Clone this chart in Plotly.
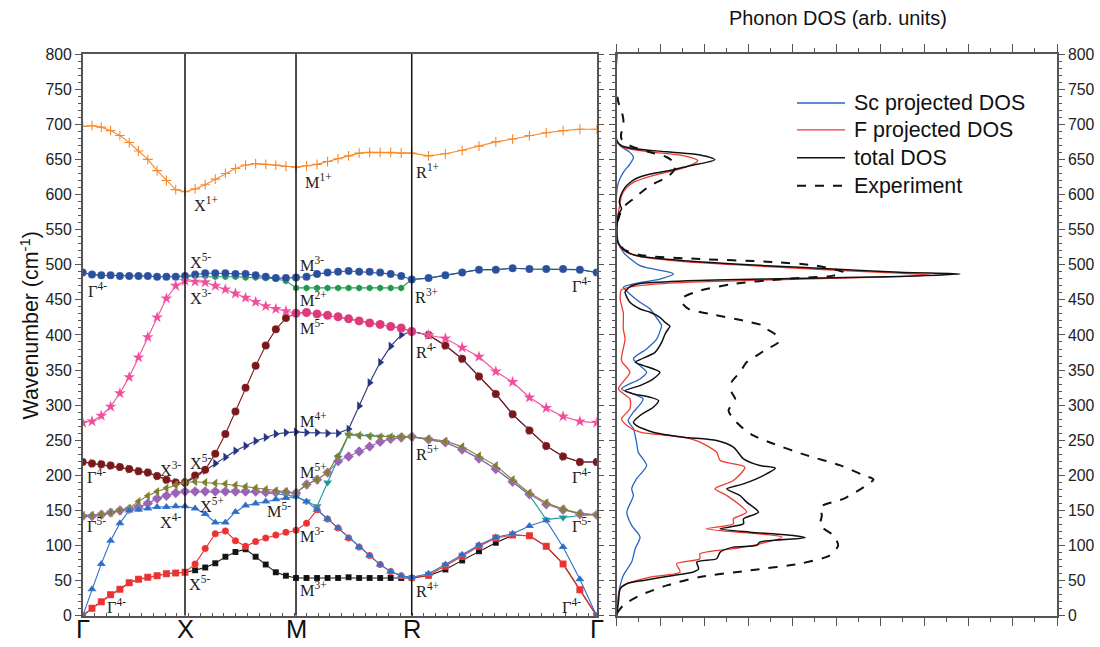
import numpy as np
import plotly.graph_objects as go

# ---------------- band structure data ----------------
kpath_labels = ["Γ", "X", "M", "R", "Γ"]
kpath_pos = [0.0, 1.0, 2.085, 3.216, 5.024]   # path coordinate of high-symmetry points (as drawn)
pts_per_seg = 12

# each band: Γ-X (12 pts) + X-M (11) + M-R (11) + R-Γ (11)
orange = ([697, 698, 696, 691, 684, 674, 662, 650, 634, 620, 607, 604] +
          [608, 614, 622, 630, 637, 642, 644, 643, 642, 640, 639] +
          [641, 643, 647, 651, 655, 659, 660, 660, 660, 659, 659] +
          [655, 658, 663, 669, 675, 679, 684, 688, 691, 693, 693])
bluecirc = ([489, 486, 485, 485, 484, 484, 484, 484, 483, 483, 483, 484] +
            [486, 488, 488, 488, 487, 487, 485, 483, 481, 481, 482] +
            [483, 487, 489, 490, 491, 490, 490, 489, 487, 484, 479] +
            [481, 485, 489, 493, 493, 495, 494, 494, 494, 493, 489])
green = ([489, 486, 485, 485, 484, 484, 484, 484, 483, 483, 483, 484] +
         [484, 484, 483, 483, 483, 482, 482, 481, 480, 477, 467] +
         [467, 467, 467, 467, 467, 467, 467, 467, 467, 467, 479] +
         [481, 485, 489, 493, 493, 495, 494, 494, 494, 493, 489])
pink = ([275, 277, 285, 298, 317, 340, 368, 397, 425, 452, 470, 477] +
        [476, 475, 470, 465, 459, 453, 447, 441, 437, 434, 431] +
        [432, 430, 428, 426, 423, 420, 417, 415, 412, 410, 405] +
        [400, 395, 382, 369, 348, 333, 311, 296, 284, 277, 275])
maroon = ([219, 217, 216, 214, 212, 209, 206, 204, 199, 194, 190, 190] +
          [200, 208, 231, 259, 291, 325, 356, 385, 408, 424, 431] +
          [432, 430, 428, 426, 423, 420, 417, 415, 412, 410, 405] +
          [400, 385, 366, 341, 316, 287, 264, 242, 227, 219, 219])
navy = ([219, 217, 216, 214, 212, 209, 206, 204, 199, 194, 190, 190] +
        [197, 207, 217, 226, 235, 242, 249, 254, 259, 261, 262] +
        [261, 261, 260, 260, 266, 299, 332, 361, 384, 400, 405] +
        [400, 385, 366, 341, 316, 287, 264, 242, 227, 219, 219])
olive = ([143, 143, 144, 147, 150, 153, 163, 171, 177, 182, 186, 190] +
         [191, 190, 189, 188, 186, 184, 182, 180, 178, 177, 175] +
         [187, 194, 204, 228, 258, 257, 256, 255, 255, 255, 255] +
         [252, 249, 241, 228, 214, 194, 175, 161, 152, 146, 144])
purple = ([142, 142, 144, 147, 150, 152, 155, 160, 167, 171, 175, 177] +
          [177, 177, 177, 177, 177, 177, 177, 176, 176, 176, 175] +
          [187, 194, 204, 220, 227, 234, 241, 248, 252, 254, 255] +
          [251, 247, 237, 224, 209, 191, 173, 159, 151, 145, 144])
teal = ([142, 142, 144, 147, 150, 152, 155, 160, 167, 171, 175, 177] +
        [177, 177, 177, 177, 177, 177, 176, 175, 174, 172, 170] +
        [163, 156, 190, 225, 258, 257, 256, 255, 255, 255, 255] +
        [251, 247, 237, 224, 209, 191, 172, 137, 140, 143, 144])
blueup = ([0, 38, 74, 107, 132, 150, 151, 153, 155, 155, 156, 156] +
          [153, 145, 133, 133, 148, 157, 160, 163, 166, 168, 170] +
          [163, 151, 138, 125, 111, 98, 86, 73, 63, 57, 55] +
          [60, 73, 87, 101, 112, 117, 128, 136, 98, 52, 0])
red = ([0, 11, 20, 30, 38, 47, 52, 55, 57, 60, 61, 62] +
       [74, 96, 117, 121, 107, 99, 106, 111, 115, 119, 122] +
       [132, 151, 138, 125, 111, 98, 86, 73, 63, 57, 54] +
       [58, 71, 85, 99, 111, 115, 114, 99, 74, 37, 0])
black = ([0, 11, 20, 30, 38, 47, 52, 55, 57, 60, 61, 62] +
         [65, 69, 75, 84, 91, 95, 84, 73, 62, 57, 54] +
         [54, 54, 54, 54, 55, 54, 54, 54, 54, 54, 54] +
         [57, 66, 79, 92, 104, 115, 114, 99, 74, 37, 0])

# ---------------- DOS data (frequency in cm-1, DOS in arb. units) ----------------
tot_f = [0, 19.7, 38.7, 45.8, 50.5, 57.6, 62.4, 67.1, 76.6, 81.3, 90.8, 97.9, 100.3, 105.0, 111.2,
         114.5, 119.2, 124.0, 131.1, 138.2, 147.7, 161.9, 171.4, 180.9, 188.0, 199.8, 210.3, 214.1,
         223.6, 240.2, 249.6, 254.4, 261.5, 271.0, 275.8, 285.3, 297.1, 306.6, 311.3, 316.1, 320.8,
         327.9, 337.4, 346.9, 356.4, 361.1, 364.9, 375.3, 389.5, 401.4, 408.5, 412.4, 418.0, 425.2,
         432.3, 437.0, 446.5, 460.8, 464.5, 468.8, 473.3, 476.9, 479.7, 483.3, 486.8, 489.2, 494.0,
         498.7, 505.8, 512.0, 517.7, 524.8, 536.7, 555.6, 572.3, 579.4, 588.9, 598.4, 610.2, 616.4,
         622.1, 629.2, 635.4, 641.1, 645.8, 649.6, 652.9, 657.6, 660.9, 664.8, 669.5, 676.6, 800]
tot_d = [0, 0.04, 0.08, 0.23, 0.61, 1.29, 1.74, 1.86, 1.82, 2.27, 2.35, 2.65, 3.18, 3.25, 4.28,
         4.01, 3.03, 2.35, 2.88, 2.88, 3.22, 2.95, 2.80, 2.50, 2.88, 3.33, 3.60, 3.25,
         2.88, 2.65, 2.27, 1.51, 0.83, 0.45, 0.38, 0.53, 0.83, 0.95, 0.76, 0.38, 0.19,
         0.53, 0.83, 0.98, 0.61, 0.42, 0.53, 0.87, 1.02, 1.10, 1.17, 1.21, 1.10, 0.98,
         0.76, 0.53, 0.30, 0.19, 0.23, 0.30, 0.53, 1.51, 3.41, 6.43, 7.80, 6.43, 4.92,
         3.41, 1.51, 0.53, 0.25, 0.10, 0, 0.01, 0.04, 0.11, 0.06, 0.09, 0.19, 0.29,
         0.42, 0.76, 1.29, 1.66, 2.04, 2.23, 2.12, 1.74, 1.14, 0.45, 0.11, 0, 0]

f_f = [0, 38.7, 45.8, 55.3, 62.4, 74.2, 81.3, 88.5, 95.6, 100.3, 112.2, 124.0, 131.1, 138.2, 147.7,
       171.4, 180.9, 192.7, 211.8, 221.3, 233.1, 247.3, 254.4, 261.5, 271.1, 280.6, 294.8, 309.0,
       323.2, 346.9, 363.5, 394.3, 408.5, 431.5, 450.5, 464.5, 468.0, 472.0, 475.5, 479.0, 482.5,
       485.4, 488.0, 492.5, 497.5, 504.5, 511.5, 517.7, 524.8, 536.7, 555.6, 574.6, 588.9, 598.4,
       610.2, 617.3, 625.9, 633.9, 641.1, 648.2, 655.3, 660.9, 667.1, 676.6, 800]
f_d = [0, 0.08, 0.23, 0.76, 1.44, 1.36, 1.89, 1.89, 2.65, 3.10, 3.75, 2.04, 2.65, 2.65, 2.95,
       2.50, 2.23, 2.65, 2.91, 2.35, 2.27, 1.89, 1.51, 0.53, 0.23, 0.11, 0.30, 0.30,
       0.04, 0.30, 0.11, 0.19, 0.15, 0.15, 0.08, 0.11, 0.30, 0.80, 1.90, 3.80, 6.00,
       7.12, 6.40, 4.90, 3.40, 1.51, 0.53, 0.23, 0.08, 0, 0, 0.04, 0.08, 0.11,
       0.23, 0.38, 0.76, 1.29, 1.66, 1.84, 1.51, 0.76, 0.15, 0, 0]

sc_f = [0, 29.2, 43.4, 57.6, 76.6, 95.6, 112.2, 128.8, 147.7, 171.4, 180.9, 195.1, 214.1, 233.1,
        247.3, 266.3, 278.2, 290.0, 309.0, 323.2, 337.4, 346.9, 365.9, 380.1, 394.3, 408.5, 413.3,
        427.5, 437.0, 446.5, 460.6, 467.8, 472.6, 479.7, 486.8, 490.2, 498.7, 517.7, 531.9, 545.0,
        603.0, 617.3, 631.6, 643.4, 652.9, 660.0, 669.5, 679.0, 800]
sc_d = [0, 0.04, 0.08, 0.15, 0.34, 0.42, 0.53, 0.34, 0.23, 0.38, 0.34, 0.45, 0.68, 0.49,
        0.45, 0.38, 0.26, 0.38, 0.60, 0.11, 0.53, 0.68, 0.38, 0.68, 0.91, 1.00, 1.02,
        0.87, 0.76, 0.53, 0.26, 0.15, 0.38, 0.98, 1.29, 1.14, 0.53, 0.15, 0.04, 0,
        0, 0.04, 0.15, 0.30, 0.38, 0.30, 0.08, 0, 0]

exp_f = [3.3, 15.0, 29.2, 43.4, 55.3, 64.8, 74.3, 86.1, 100.3, 114.6, 128.8, 143.0, 154.9, 166.7,
         183.3, 194.3, 200.1, 214.3, 228.5, 245.0, 256.9, 266.4, 280.6, 292.4, 309.0, 318.5, 332.7,
         346.9, 361.1, 370.6, 380.0, 389.5, 398.9, 408.5, 413.3, 420.4, 429.9, 437.0, 446.5, 453.6,
         463.1, 472.6, 479.7, 484.5, 489.2, 498.7, 504.4, 508.2, 513.9, 522.4, 537.0, 555.9, 565.4,
         574.9, 584.4, 593.9, 605.7, 612.8, 624.7, 634.2, 643.6, 653.1, 660.2, 669.7, 679.2, 686.3,
         695.8, 707.6, 719.0, 731.0, 745.0]
exp_d = [0, 0.15, 0.53, 1.14, 1.89, 3.03, 4.16, 4.84, 5.03, 4.92, 4.62, 4.66, 4.62, 5.15,
         5.61, 5.83, 5.61, 5.08, 4.32, 3.56, 3.10, 2.88, 2.65, 2.54, 2.69, 2.61, 2.61,
         2.80, 2.95, 3.18, 3.41, 3.67, 3.64, 3.41, 3.33, 2.88, 2.12, 1.63, 1.48, 1.51,
         1.89, 2.65, 3.79, 4.92, 5.15, 4.54, 3.41, 1.89, 0.53, 0.15, 0.01, 0, 0.04,
         0.09, 0.19, 0.38, 0.61, 0.76, 1.14, 1.30, 1.33, 1.14, 0.76, 0.30, 0.11, 0.10,
         0.15, 0.15, 0.11, 0.04, 0]

# ---------------- page geometry ----------------
W, H, OFF = 1100, 647, 8
SY = (H + 2 * OFF) / 647      # vertical fit of the page into the picture
FS = 1.02                     # font compensation


def fx(x):
    """target picture x-pixel -> paper fraction"""
    return x / W


def fy(y):
    """target picture y-pixel -> paper fraction (from bottom)"""
    return 1 - (y * SY - OFF) / H


def fs(size):
    return round(size * FS, 1)


# ---------------- build figure ----------------
segs = []
for s in range(4):
    seg = np.linspace(kpath_pos[s], kpath_pos[s + 1], pts_per_seg)
    segs.append(seg if s == 0 else seg[1:])
kx = np.concatenate(segs)

pink_sym = ["star"] * 22 + ["circle"] * 12 + ["star"] * 11
pink_col = ["#f24c9c"] * 22 + ["#e0387c"] * 12 + ["#f24c9c"] * 11
red_sym = ["square"] * 12 + ["circle"] * 22 + ["square"] * 11

band_specs = [
    (green, "#1e9a4c", "hexagon", 7, "#1e9a4c"),
    (bluecirc, "#2a4f9c", "circle", 8, "#2a4f9c"),
    (orange, "#f7892b", "cross-thin", 7, "#f7892b"),
    (navy, "#25357f", "triangle-right", 8, "#25357f"),
    (maroon, "#7a1719", "circle", 8, "#7a1719"),
    (pink, "#f24c9c", pink_sym, 9, pink_col),
    (teal, "#1a9898", "triangle-down", 8, "#1a9898"),
    (purple, "#9b62b8", "diamond", 8, "#9b62b8"),
    (olive, "#7e7e2e", "triangle-left", 8, "#7e7e2e"),
    (black, "#111111", "square", 6, "#111111"),
    (red, "#ee3030", red_sym, 7, "#ee3030"),
    (blueup, "#2d6ec7", "triangle-up", 8, "#2d6ec7"),
]

fig = go.Figure()
for vals, lc, sym, size, mc in band_specs:
    is_cross = sym == "cross-thin"
    fig.add_trace(go.Scatter(
        x=kx, y=vals, mode="lines+markers", xaxis="x", yaxis="y",
        line=dict(color=lc, width=1.1),
        marker=dict(symbol=sym, size=size, color=mc,
                    line=dict(width=1.1 if is_cross else 0.4,
                              color=lc if is_cross else "rgba(255,255,255,0.35)")),
        showlegend=False, hoverinfo="skip"))

dos_specs = [
    ("Sc projected DOS", sc_f, sc_d, "#2a64c0", "solid", 1.3),
    ("F projected DOS", f_f, f_d, "#f03a2f", "solid", 1.3),
    ("total DOS", tot_f, tot_d, "#111111", "solid", 1.5),
    ("Experiment", exp_f, exp_d, "#111111", "dash", 2.0),
]
for name, fr, dd, col, dash, w in dos_specs:
    fig.add_trace(go.Scatter(
        x=dd, y=fr, mode="lines", xaxis="x2", yaxis="y2", name=name,
        line=dict(color=col, width=w, dash=dash, shape="spline", smoothing=0.7),
        showlegend=False, hoverinfo="skip"))

# vertical lines at X, M, R
shapes = []
for kp in kpath_pos[1:-1]:
    shapes.append(dict(type="line", xref="x", yref="y", x0=kp, x1=kp, y0=0, y1=800,
                       line=dict(color="#111111", width=1.5)))

# manual legend
leg_y = [103, 130, 158, 186]
annotations = []
for (name, fr, dd, col, dash, w), yc in zip(dos_specs, leg_y):
    shapes.append(dict(type="line", xref="paper", yref="paper", x0=fx(797), x1=fx(845),
                       y0=fy(yc), y1=fy(yc), line=dict(color=col, width=w, dash=dash)))
    annotations.append(dict(text=name, xref="paper", yref="paper", x=fx(852), y=fy(yc),
                            xanchor="left", yanchor="middle", showarrow=False,
                            font=dict(family="Liberation Sans", size=fs(21), color="#111")))

# high-symmetry point tick labels
for lab, kp in zip(kpath_labels, kpath_pos):
    annotations.append(dict(text=lab, xref="x", yref="paper", x=kp, y=fy(630),
                            xanchor="center", yanchor="middle", showarrow=False,
                            font=dict(family="Liberation Sans", size=fs(25), color="#111")))

# symmetry labels
sym_labels = [
    ("Γ<sup>4-</sup>", 0.03, 463, "left"), ("X<sup>5-</sup>", 1.03, 504, "left"),
    ("X<sup>3-</sup>", 1.03, 454, "left"), ("M<sup>3-</sup>", 2.10, 501, "left"),
    ("M<sup>2+</sup>", 2.10, 451, "left"), ("M<sup>5-</sup>", 2.10, 410, "left"),
    ("M<sup>4+</sup>", 2.10, 278, "left"), ("R<sup>3+</sup>", 3.23, 455, "left"),
    ("Γ<sup>4-</sup>", 4.99, 470, "right"), ("R<sup>4-</sup>", 3.24, 377, "left"),
    ("X<sup>1+</sup>", 1.07, 586, "left"), ("M<sup>1+</sup>", 2.15, 618, "left"),
    ("R<sup>1+</sup>", 3.24, 633, "left"), ("Γ<sup>4-</sup>", 0.02, 199, "left"),
    ("X<sup>3-</sup>", 0.98, 209, "right"), ("X<sup>5-</sup>", 1.03, 219, "left"),
    ("M<sup>5+</sup>", 2.10, 206, "left"), ("X<sup>5+</sup>", 1.13, 157, "left"),
    ("X<sup>4-</sup>", 0.98, 135, "right"), ("M<sup>5-</sup>", 2.06, 150, "right"),
    ("Γ<sup>5-</sup>", 0.02, 128, "left"), ("M<sup>3-</sup>", 2.10, 114, "left"),
    ("Γ<sup>4-</sup>", 0.22, 14, "left"), ("X<sup>5-</sup>", 1.02, 46, "left"),
    ("M<sup>3+</sup>", 2.10, 38, "left"), ("R<sup>5+</sup>", 3.24, 231, "left"),
    ("Γ<sup>4-</sup>", 4.99, 199, "right"), ("Γ<sup>5-</sup>", 4.99, 128, "right"),
    ("R<sup>4+</sup>", 3.24, 36, "left"), ("Γ<sup>4-</sup>", 4.89, 13, "right"),
]
for txt, xx, yy, anc in sym_labels:
    annotations.append(dict(text=txt, xref="x", yref="y", x=xx, y=yy, xanchor=anc,
                            yanchor="middle", showarrow=False,
                            font=dict(family="Liberation Serif", size=fs(16), color="#222")))

annotations.append(dict(text="Wavenumber (cm<sup>-1</sup>)", xref="paper", yref="paper",
                        x=fx(30), y=fy(326), xanchor="center", yanchor="middle",
                        textangle=-90, showarrow=False,
                        font=dict(family="Liberation Sans", size=fs(21), color="#111")))
annotations.append(dict(text="Phonon DOS (arb. units)", xref="paper", yref="paper",
                        x=fx(838), y=fy(18), xanchor="center", yanchor="middle",
                        showarrow=False,
                        font=dict(family="Liberation Sans", size=fs(19.5), color="#111")))

axis_col = "#555555"
ydom = [fy(617), fy(54)]
fig.update_layout(
    width=W, height=H, margin=dict(l=0, r=0, t=0, b=0),
    paper_bgcolor="white", plot_bgcolor="white", showlegend=False,
    shapes=shapes, annotations=annotations,
    xaxis=dict(domain=[fx(82.7), fx(596.7)], range=[kpath_pos[0], kpath_pos[-1]],
               tickmode="array", tickvals=kpath_pos, ticks="", showticklabels=False,
               showline=True, linecolor=axis_col, linewidth=1.5, mirror=True,
               showgrid=False, zeroline=False,
               minor=dict(tickmode="array", tickvals=list(np.arange(0.115, 5.0, 0.115)),
                          ticks="inside", ticklen=3, tickcolor=axis_col)),
    yaxis=dict(domain=ydom, range=[0, 800], dtick=50, ticks="outside", ticklen=6,
               tickcolor=axis_col,
               tickfont=dict(family="Liberation Sans", size=fs(15.5), color="#222"),
               showline=True, linecolor=axis_col, linewidth=1.5, mirror="ticks",
               showgrid=False, zeroline=False,
               minor=dict(dtick=10, ticks="outside", ticklen=3, tickcolor=axis_col)),
    xaxis2=dict(domain=[fx(616.7), fx(1057)], range=[0, 10], anchor="y2", dtick=1,
                ticks="outside", ticklen=8, tickcolor=axis_col, showticklabels=False,
                showline=True, linecolor=axis_col, linewidth=1.5, mirror="ticks",
                showgrid=False, zeroline=False,
                minor=dict(dtick=0.5, ticks="outside", ticklen=4, tickcolor=axis_col)),
    yaxis2=dict(domain=ydom, range=[0, 800], anchor="x2", side="right", dtick=50,
                ticks="outside", ticklen=6, tickcolor=axis_col,
                tickfont=dict(family="Liberation Sans", size=fs(15.5), color="#222"),
                showline=True, linecolor=axis_col, linewidth=1.5, mirror="ticks",
                showgrid=False, zeroline=False,
                minor=dict(dtick=10, ticks="outside", ticklen=3, tickcolor=axis_col)),
)

fig.write_html("out.html")
